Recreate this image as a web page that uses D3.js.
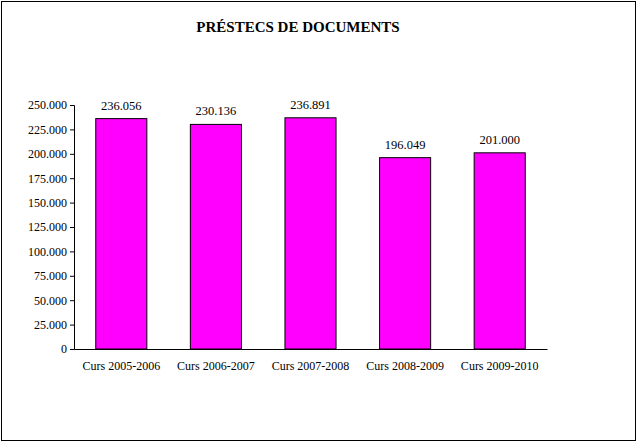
<!DOCTYPE html>
<html><head><meta charset="utf-8">
<script src="https://cdn.jsdelivr.net/npm/d3@7"></script>
<style>body{margin:0;background:#fff}text{font-family:"Liberation Serif","Times New Roman",serif}</style>
</head><body>
<svg id="chart" width="638" height="443"></svg>
<script>
// chart data
var categories = ["Curs 2005-2006","Curs 2006-2007","Curs 2007-2008","Curs 2008-2009","Curs 2009-2010"];
var values = [236056, 230136, 236891, 196049, 201000];
var tickValues = [0,25000,50000,75000,100000,125000,150000,175000,200000,225000,250000];

var fmt = function(v){ return d3.format(",")(v).replace(/,/g,"."); };

var svg = d3.select("#chart");
svg.append("rect").attr("x",1.5).attr("y",1.5).attr("width",634).attr("height",439)
	.attr("fill","#fff").attr("stroke","#000").attr("stroke-width",1);

svg.append("text").attr("x",298).attr("y",32).attr("text-anchor","middle")
	.attr("font-size",15).attr("font-weight","bold").text("PRÉSTECS DE DOCUMENTS");

var plotL = 74, plotR = 547, plotT = 105, plotB = 349;
var x = d3.scaleBand().domain(categories).range([plotL,plotR]).paddingInner(0.46).paddingOuter(0.23);
var y = d3.scaleLinear().domain([0,250000]).range([plotB,plotT]);

var yAxis = svg.append("g").attr("transform","translate("+plotL+",0)")
	.call(d3.axisLeft(y).tickValues(tickValues).tickFormat(fmt).tickSize(4).tickPadding(3));
yAxis.selectAll("text").attr("font-size",12).attr("fill","#000");
yAxis.selectAll("line,path").attr("stroke","#000");

var xAxis = svg.append("g").attr("transform","translate(0,"+plotB+")")
	.call(d3.axisBottom(x).tickSize(0).tickPadding(12).tickSizeOuter(0));
xAxis.selectAll("text").attr("font-size",12).attr("fill","#000");
xAxis.select("path").attr("stroke","#000");

svg.selectAll("rect.bar").data(values).enter().append("rect").attr("class","bar")
	.attr("x",function(d,i){return x(categories[i]);})
	.attr("width",x.bandwidth())
	.attr("y",function(d){return y(d);})
	.attr("height",function(d){return plotB-y(d);})
	.attr("fill","#ff00ff").attr("stroke","#000").attr("stroke-width",1);

svg.selectAll("text.lbl").data(values).enter().append("text").attr("class","lbl")
	.attr("x",function(d,i){return x(categories[i])+x.bandwidth()/2;})
	.attr("y",function(d){return y(d)-9;})
	.attr("text-anchor","middle").attr("font-size",12.5)
	.text(function(d){return fmt(d);});
</script>
</body></html>
